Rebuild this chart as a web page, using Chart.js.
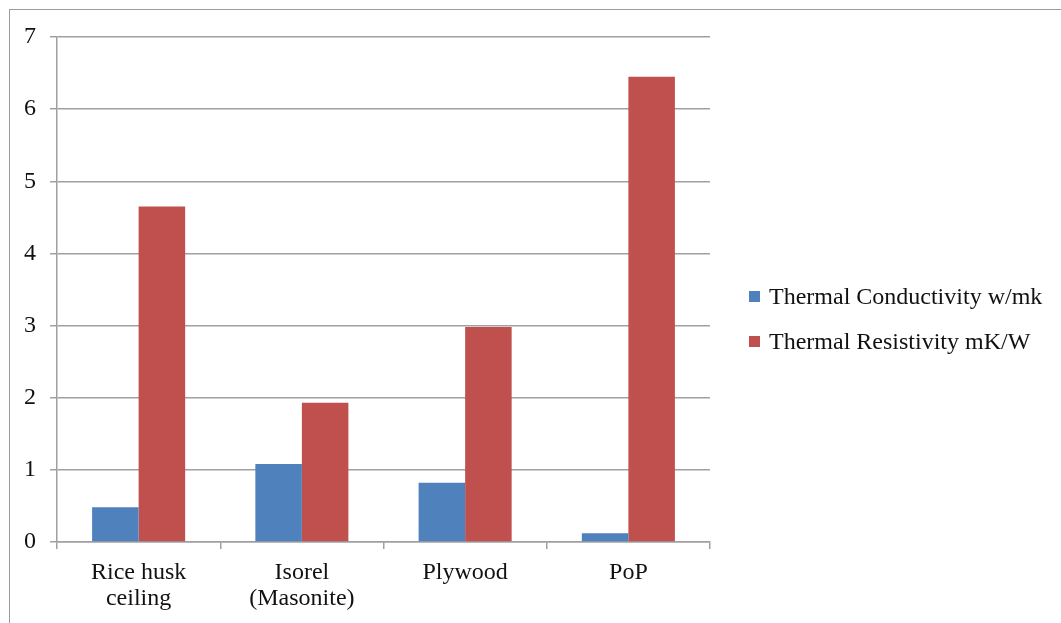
<!DOCTYPE html>
<html>
<head>
<meta charset="utf-8">
<script src="https://cdn.jsdelivr.net/npm/chart.js@4/dist/chart.umd.min.js"></script>
<style>
  html, body { margin: 0; padding: 0; background: #fff; overflow: hidden; }
  #wrap { position: relative; width: 1061px; height: 623px; overflow: hidden; }
  #frame { position: absolute; left: 9px; top: 9px; width: 1200px; height: 800px;
           border: 1.5px solid #9c9c9c; box-sizing: border-box; }
  #chartBox { position: absolute; left: 0; top: 0; width: 1061px; height: 623px; }
  #legend { position: absolute; left: 749px; top: 274px; font-family: "Liberation Serif", serif;
            font-size: 24px; color: #111; }
  #legend div { height: 45px; display: flex; align-items: center; white-space: nowrap; }
  #legend span.box { display: inline-block; width: 11px; height: 11px; margin-right: 9px; }
</style>
</head>
<body>
<div id="wrap">
  <div id="frame"></div>
  <div id="chartBox"><canvas id="chart"></canvas></div>
  <div id="legend"></div>
</div>
<script>
// DATA
const categories = [["Rice husk", "ceiling"], ["Isorel", "(Masonite)"], "Plywood", "PoP"];
const conductivity = [0.48, 1.08, 0.82, 0.12];
const resistivity = [4.65, 1.93, 2.98, 6.45];
const seriesNames = ["Thermal Conductivity w/mk", "Thermal Resistivity mK/W"];
const yTicks = [0, 1, 2, 3, 4, 5, 6, 7];

const colors = ["#4f81bd", "#c0504d"];
const font = { family: "Liberation Serif", size: 24, lineHeight: 1.07 };

const chart = new Chart(document.getElementById("chart"), {
  type: "bar",
  data: {
    labels: categories,
    datasets: [
      { label: seriesNames[0], data: conductivity, backgroundColor: colors[0] },
      { label: seriesNames[1], data: resistivity, backgroundColor: colors[1] }
    ]
  },
  options: {
    responsive: true,
    maintainAspectRatio: false,
    animation: false,
    categoryPercentage: 0.57,
    barPercentage: 1,
    layout: { padding: { top: 37, right: 351, bottom: 0, left: 0 } },
    plugins: { legend: { display: false }, tooltip: { enabled: false } },
    scales: {
      x: {
        grid: { drawOnChartArea: false, tickLength: 7, color: "#a0a0a0", lineWidth: 1.5 },
        border: { color: "#a0a0a0", width: 1.5 },
        ticks: { font, color: "#111", padding: 11, maxRotation: 0 },
        afterFit: (s) => { s.height = 81; }
      },
      y: {
        min: yTicks[0],
        max: yTicks[yTicks.length - 1],
        afterBuildTicks: (s) => { s.ticks = yTicks.map(v => ({ value: v })); },
        grid: { color: "#a0a0a0", lineWidth: 1.5, tickLength: 7 },
        border: { color: "#a0a0a0", width: 1.5 },
        ticks: { font, color: "#111", padding: 14 },
        afterFit: (s) => { s.width = 57; }
      }
    }
  }
});

// LEGEND (HTML, built from the datasets)
const legendEl = document.getElementById("legend");
chart.data.datasets.forEach(ds => {
  const row = document.createElement("div");
  const box = document.createElement("span");
  box.className = "box";
  box.style.background = ds.backgroundColor;
  row.appendChild(box);
  row.appendChild(document.createTextNode(ds.label));
  legendEl.appendChild(row);
});
</script>
</body>
</html>
